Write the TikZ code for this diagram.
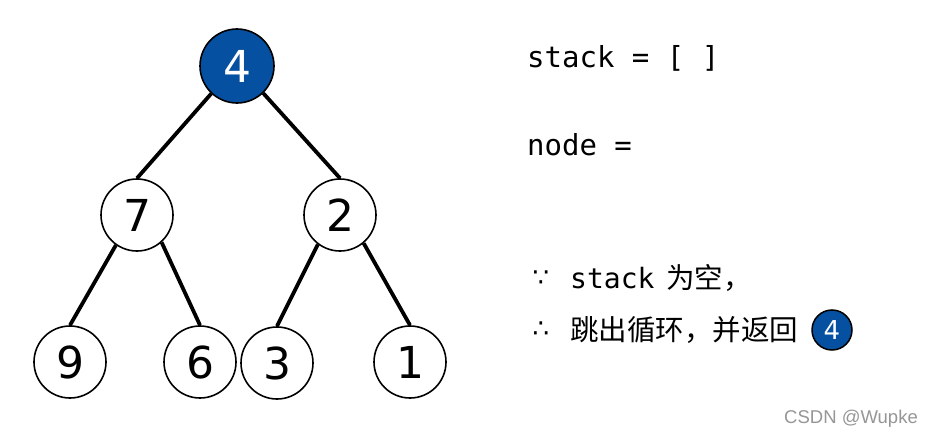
\documentclass[tikz,border=0pt]{standalone}
\usepackage{fontspec}
\setmainfont{DejaVu Sans}
\newfontfamily\monofnt{DejaVu Sans Mono}
\newfontfamily\cjkfnt{Noto Sans CJK SC}
\newfontfamily\wmfnt{Liberation Sans}
\definecolor{nodeblue}{RGB}{5,80,160}
\definecolor{wmgray}{RGB}{150,150,150}
\begin{document}
\begin{tikzpicture}[x=1pt,y=-1pt,
  treenode/.style={circle,draw=black,line width=1.6pt,minimum size=72pt,inner sep=0pt,fill=white,font=\fontsize{44}{44}\selectfont},
  rootnode/.style={treenode,fill=nodeblue,text=white},
  edge/.style={line width=3.8pt,black},
  codetxt/.style={anchor=base west,inner sep=0pt,font=\monofnt\fontsize{29}{29}\selectfont},
  cjktxt/.style={anchor=base west,inner sep=0pt,font=\cjkfnt\fontsize{28.5}{28.5}\selectfont},
  symtxt/.style={inner sep=0pt,font=\fontsize{26}{26}\selectfont}]
\useasboundingbox (0,0) rectangle (927,439);
\fill[white] (0,0) rectangle (927,439);
\node[rootnode,minimum size=74pt] (n4) at (237,66) {4};
\node[treenode] (n7) at (137,215) {7};
\node[treenode] (n2) at (340,215) {2};
\node[treenode] (n9) at (70,362) {9};
\node[treenode] (n6) at (200,362) {6};
\node[treenode] (n3) at (277,363) {3};
\node[treenode] (n1) at (410,362) {1};
\draw[edge] (n4.227) -- (n7.north);
\draw[edge] (n4.314) -- (n2.north);
\draw[edge] (n7.235) -- (n9.north);
\draw[edge] (n7.312) -- (n6.north);
\draw[edge] (n2.233) -- (n3.north);
\draw[edge] (n2.310) -- (n1.north);
% texts
\node[codetxt] (t1) at (527,67) {stack = [ ]};
\node[codetxt] (t2) at (527,155) {node =};
\node[symtxt] (s1) at (541,279) {∵};
\node[codetxt,font=\monofnt\fontsize{28}{28}\selectfont] (t3) at (570,288) {stack};
\node[cjktxt] (t4) at (666,288) {为空，};
\node[symtxt] (s2) at (541,330) {∴};
\node[cjktxt] (t5) at (570,340) {跳出循环，并返回};
\node[circle,draw=black,line width=1.5pt,fill=nodeblue,text=white,minimum size=40pt,inner sep=0pt,font=\fontsize{26}{26}\selectfont] (sm4) at (832,330) {4};
\node[anchor=base east,inner sep=0pt,text=wmgray,font=\wmfnt\fontsize{18.5}{18.5}\selectfont] (wm) at (918,423) {CSDN @Wupke};
\end{tikzpicture}
\end{document}
